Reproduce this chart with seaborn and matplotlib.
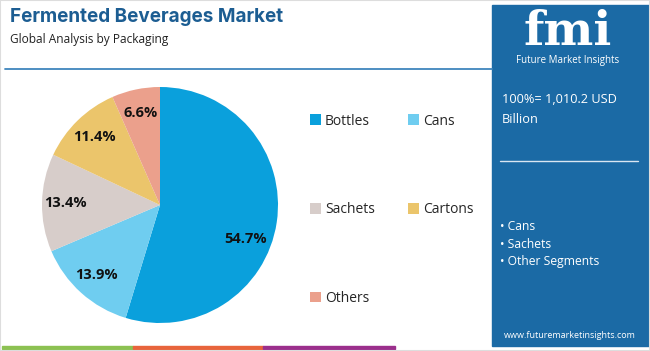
"""Fermented Beverages Market - share by packaging (pie with side panel)."""

import numpy as np
import pandas as pd
import seaborn as sns
import matplotlib.pyplot as plt
from matplotlib.patches import Rectangle

segments = ["Bottles", "Cans", "Sachets", "Cartons", "Others"]
shares = [54.7, 13.9, 13.4, 11.4, 6.6]
colors = ["#0aa0dc", "#6fcdf0", "#d7cdca", "#ebc56b", "#eba08c"]
total_label = "100%= 1,010.2 USD\nBillion"
panel_items = ["Cans", "Sachets", "Other Segments"]

BLUE = "#1b6aa5"


def main():
    sns.set_theme(style="white")
    plt.rcParams["font.family"] = ["Open Sans", "DejaVu Sans"]

    df = pd.DataFrame({"segment": segments, "share": shares})

    fig = plt.figure(figsize=(6.5, 3.51), dpi=100)
    W, H = 650, 351

    def fx(px):
        return px / W

    def fy(py):
        return 1 - py / H

    # title block
    fig.text(fx(10), fy(17), "Fermented Beverages Market", fontsize=13.6,
             fontweight="bold", color="#1c5d92", va="center", family=["Inter", "DejaVu Sans"])
    fig.text(fx(10), fy(40), "Global Analysis by Packaging", fontsize=8.6,
             color="#222222", va="center")
    fig.add_artist(plt.Line2D([fx(5), fx(492)], [fy(69), fy(69)], color="#3f86bd", lw=1.3))

    # pie
    r = 118
    ax = fig.add_axes([fx(160 - r), fy(205 + r), 2 * r / W, 2 * r / H])
    wedges, _, autotexts = ax.pie(
        df["share"], colors=colors, startangle=90, counterclock=False,
        autopct="%.1f%%", pctdistance=0.8,
        textprops=dict(fontsize=10.5, fontweight="bold", color="#111111"),
        wedgeprops=dict(linewidth=0),
    )
    ang = np.deg2rad(-22)
    autotexts[0].set_position((0.78 * np.cos(ang), 0.78 * np.sin(ang)))
    ax.set_xlim(-1, 1)
    ax.set_ylim(-1, 1)
    ax.set_aspect("equal")

    # legend, filled column-first
    order = [0, 2, 4, 1, 3]
    fig.legend([wedges[i] for i in order], [segments[i] for i in order],
               ncol=2, loc="upper left", bbox_to_anchor=(fx(297), fy(101)),
               frameon=False, fontsize=10, handlelength=0.8, handleheight=0.8,
               handletextpad=0.3, labelspacing=5.3, columnspacing=2.4)

    # right panel
    fig.add_artist(Rectangle((fx(492), fy(346)), fx(650) - fx(492), fy(5) - fy(346),
                             transform=fig.transFigure, color=BLUE, zorder=0))
    fig.text(fx(568), fy(32), "fmi", fontsize=34, fontweight="bold", color="white",
             ha="center", va="center", family=["DejaVu Serif"])
    fig.text(fx(568), fy(60), "Future Market Insights", fontsize=7, color="white",
             ha="center", va="center")
    fig.text(fx(502), fy(110), total_label, fontsize=9.2, color="white",
             va="center", linespacing=1.7)
    fig.add_artist(plt.Line2D([fx(500), fx(638)], [fy(161), fy(161)], color="#d9e6f2", lw=1))
    for i, item in enumerate(panel_items):
        fig.text(fx(500), fy(227 + 17.5 * i), "\u2022 " + item, fontsize=8.7,
                 color="white", va="center")
    fig.text(fx(570), fy(335), "www.futuremarketinsights.com", fontsize=6.5,
             color="white", ha="center", va="center")

    # bottom colour strip
    for x0, x1, c in [(2, 133, "#8cc152"), (133, 263, "#e8643c"), (263, 395, "#9b2f8c")]:
        fig.add_artist(Rectangle((fx(x0), fy(349)), fx(x1) - fx(x0), fy(346) - fy(349),
                                 transform=fig.transFigure, color=c, zorder=1))

    fig.add_artist(Rectangle((0, 0), 1, 1, transform=fig.transFigure, fill=False,
                             edgecolor="#dddddd", lw=1.5))

    fig.savefig("out.png", dpi=100)
    plt.close()


if __name__ == "__main__":
    main()
